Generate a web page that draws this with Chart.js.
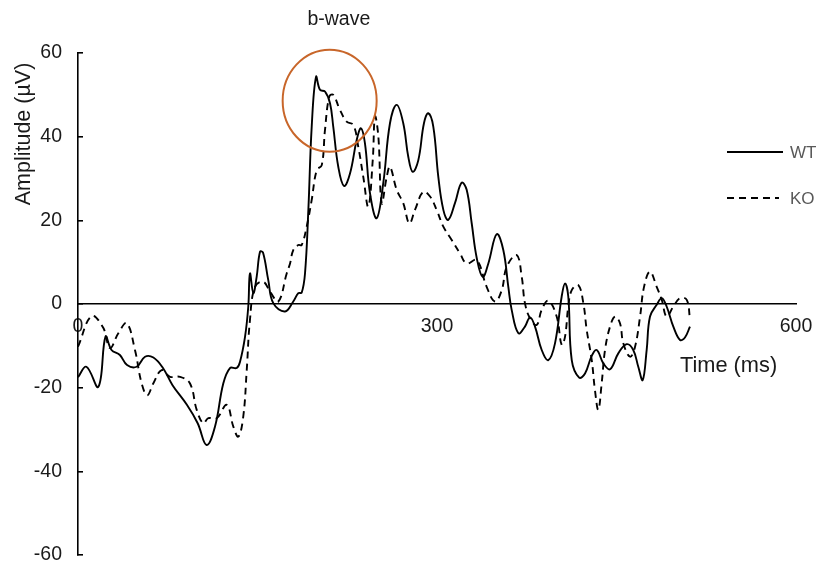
<!DOCTYPE html>
<html>
<head>
<meta charset="utf-8">
<script src="https://cdn.jsdelivr.net/npm/chart.js@4.4.1/dist/chart.umd.min.js"></script>
<style>
html,body{margin:0;padding:0;background:#fff;}
#wrap{width:816px;height:566px;}
</style>
</head>
<body>
<div id="wrap"><canvas id="c" width="816" height="566"></canvas></div>
<script>
// ---- data ----
const seriesNames = ['WT', 'KO'];
const xTicks = [0, 300, 600];
const yTicks = [-60, -40, -20, 0, 20, 40, 60];
const annotationLabel = 'b-wave';
const xTitle = 'Time (ms)';
const yTitle = 'Amplitude (µV)';

const wtTime = [0, 7, 17, 23, 28, 35, 41, 49, 56, 63, 71, 79, 91, 100, 107.5, 114.5, 121.4, 127, 132.6, 135.4, 139.6, 142.3, 143.7, 146.5, 149.3, 152.1, 154.6, 159, 163.2, 173, 179.9, 184.1, 186.9, 189.7, 192.5, 195.3, 198.9, 202.2, 206.4, 210.6, 213.3, 217.5, 222.3, 227.3, 232.9, 236.5, 239.8, 244, 249.6, 255.1, 260.7, 266.3, 271.8, 276, 279.7, 284.4, 289.1, 292.7, 296.9, 301.1, 305.3, 309.4, 315, 320.6, 324.8, 329, 333.2, 338.2, 342.9, 349.9, 355.4, 359.6, 362.4, 368, 373.5, 377.7, 381.9, 387.5, 393, 398.6, 404.2, 407, 409.7, 412.6, 418.8, 423.7, 429.3, 433.5, 439, 444.6, 451.5, 458.5, 464, 468.2, 471.9, 475.2, 478, 483.6, 487.8, 491.9, 497.5, 503.1, 507.2, 511.4];
const wtAmplitude = [-17.5, -15, -19.8, -7.8, -11, -12.2, -14.6, -15, -12.6, -12.8, -15.3, -19.4, -24.1, -28.5, -33.7, -29.3, -19, -15.3, -15.3, -13.8, -7.8, -0.6, 7.3, 2.6, 6.5, 12.5, 12.3, 5.7, 0.2, -1.8, 0.6, 2.6, 2.7, 7.3, 22.5, 42.4, 54.3, 51.2, 50.8, 48, 42.4, 32.8, 28.2, 31.2, 39.2, 42, 38.4, 26.5, 20.5, 28.9, 43.2, 47.6, 43.2, 35.2, 31.6, 34.4, 43.2, 45.6, 42.4, 30.4, 22.5, 20.1, 24.1, 29, 27.3, 19.3, 11, 6.5, 9.7, 16.7, 12.9, 4.1, -1.4, -7, -5.4, -3.2, -5.4, -11, -13.4, -9.4, 1.8, 4.9, 1.8, -13.4, -17.6, -16.6, -12.4, -11, -14.2, -15.6, -11.8, -9.6, -11, -15, -18.2, -11, -3, -0.2, 1.4, -0.6, -5.4, -8.6, -8, -5.4];

const koTime = [0, 11.4, 21.1, 26.7, 33.7, 40.7, 47.6, 53.2, 57.9, 62.9, 69.9, 76.9, 85.2, 93.6, 99.2, 104.7, 108.9, 115.9, 124.3, 129.8, 134, 138.1, 141, 143.7, 147.9, 154.8, 160.4, 167.4, 174.4, 177.2, 179.9, 184.1, 186.9, 191.1, 195.3, 199.5, 203.7, 206.4, 210, 213.3, 218.9, 224.5, 230.1, 234.2, 238.4, 242.6, 246.3, 248.2, 251, 253.8, 258, 260.7, 266.3, 271.8, 276.9, 281.6, 288.5, 294.2, 299.7, 305.3, 312.3, 319.2, 324.8, 333.2, 341.5, 348.5, 354.1, 358.3, 366.6, 370.8, 373.5, 377.7, 383.3, 387.5, 393, 400, 404.2, 407, 409.7, 412.6, 418.1, 422.3, 425.1, 429.3, 432, 434.8, 437.6, 440.4, 444.6, 448.8, 452.9, 455.7, 461.3, 465.5, 469.7, 473, 478, 483.6, 487.8, 491.9, 497.5, 503.1, 508.7, 511.4];
const koAmplitude = [-10.2, -2.9, -5.7, -10.5, -7, -4.6, -11, -19, -21.8, -19, -15.8, -17.4, -17.4, -19, -25.3, -28.5, -27.3, -27.3, -24.1, -29.3, -31.7, -26.9, -15.8, -3.8, 4.1, 5.3, 3, 0.6, 7.3, 9.7, 12.9, 14.1, 14.1, 18.5, 24.9, 32, 33.2, 41.6, 49.6, 50, 46.4, 43.6, 42.8, 37.6, 30.4, 23.3, 34.4, 44.8, 40, 24.1, 30.4, 32.8, 27.3, 24.1, 19.3, 22.5, 26.8, 25.7, 22.5, 18.5, 15.3, 12.1, 9.7, 10.5, 4.1, 0.6, 3.3, 8.9, 11.7, 6.5, 0.2, -3.4, -5, -1.4, 0.8, -3, -9.8, -7.8, -0.6, 3.3, 4.5, 0.2, -6.2, -13.4, -20.6, -25.3, -19, -11, -5.4, -3, -4.6, -9.4, -12.6, -10.2, -3, 4.1, 7.7, 4.1, 1, -3, -0.6, 1.4, 1, -3.5];

// ---- styling ----
const FONT = '"Liberation Sans", Arial, sans-serif';
const TEXT = '#1a1a1a';

const toPoints = (xs, ys) => xs.map((x, i) => ({ x: x, y: ys[i] }));

const overlay = {
  id: 'overlay',
  afterDraw(chart) {
    const ctx = chart.ctx;
    const xs = chart.scales.x, ys = chart.scales.y;
    ctx.save();
    // highlight ellipse around the b-wave peak
    ctx.strokeStyle = '#C8662A';
    ctx.lineWidth = 2;
    ctx.beginPath();
    ctx.ellipse(xs.getPixelForValue(210.3), ys.getPixelForValue(48.6), 47, 51, 0, 0, Math.PI * 2);
    ctx.stroke();

    ctx.fillStyle = TEXT;
    ctx.textBaseline = 'middle';
    ctx.textAlign = 'center';
    ctx.font = '19.5px ' + FONT;
    ctx.fillText(annotationLabel, xs.getPixelForValue(218), 20);

    // x title
    ctx.font = '21.8px ' + FONT;
    ctx.textAlign = 'left';
    ctx.fillText(xTitle, xs.getPixelForValue(503), 366);

    // y title
    ctx.save();
    ctx.translate(24, 134);
    ctx.rotate(-Math.PI / 2);
    ctx.textAlign = 'center';
    ctx.font = '21.5px ' + FONT;
    ctx.fillText(yTitle, 0, 0);
    ctx.restore();

    // legend
    const items = chart.data.datasets;
    const ly = [152, 198];
    ctx.font = '17px ' + FONT;
    ctx.textAlign = 'left';
    items.forEach((ds, i) => {
      ctx.strokeStyle = ds.borderColor;
      ctx.lineWidth = ds.borderWidth;
      ctx.setLineDash(ds.borderDash || []);
      ctx.beginPath();
      ctx.moveTo(727, ly[i]);
      ctx.lineTo(i === 0 ? 783 : 779, ly[i]);
      ctx.stroke();
      ctx.setLineDash([]);
      ctx.fillStyle = '#595959';
      ctx.fillText(ds.label, 790, ly[i] + 1);
    });
    ctx.restore();
  }
};

new Chart(document.getElementById('c'), {
  type: 'line',
  data: {
    datasets: [
      { label: seriesNames[0], data: toPoints(wtTime, wtAmplitude), borderColor: '#000', borderWidth: 1.9, pointRadius: 0, tension: 0.4, fill: false },
      { label: seriesNames[1], data: toPoints(koTime, koAmplitude), borderColor: '#000', borderWidth: 1.9, borderDash: [7, 5], pointRadius: 0, tension: 0.4, fill: false }
    ]
  },
  options: {
    responsive: false,
    devicePixelRatio: 1,
    animation: false,
    layout: { padding: { left: 0, right: 20, top: 53, bottom: 11 } },
    plugins: { legend: { display: false }, tooltip: { enabled: false } },
    scales: {
      x: {
        type: 'linear', min: 0, max: 600,
        position: { y: 0 },
        afterBuildTicks: s => { s.ticks = xTicks.map(v => ({ value: v })); },
        afterFit: s => { s.paddingLeft = 0; s.paddingRight = 0; s.paddingTop = 0; s.paddingBottom = 0; },
        grid: { drawOnChartArea: false, drawTicks: false, color: 'rgba(0,0,0,0)' },
        border: { display: true, color: '#000', width: 1.6 },
        ticks: { padding: 11, color: TEXT, maxRotation: 0, autoSkip: false, font: { family: FONT, size: 19.5 } }
      },
      y: {
        type: 'linear', min: -60, max: 60,
        afterBuildTicks: s => { s.ticks = yTicks.map(v => ({ value: v })); },
        afterFit: s => { s.width = 78; s.paddingTop = 0; s.paddingBottom = 0; },
        grid: { drawOnChartArea: false, drawTicks: true, tickLength: -5, color: '#000', lineWidth: 1.6 },
        border: { display: true, color: '#000', width: 1.6 },
        ticks: { padding: 21, color: TEXT, autoSkip: false, font: { family: FONT, size: 19.5 } }
      }
    }
  },
  plugins: [overlay]
});
</script>
</body>
</html>
